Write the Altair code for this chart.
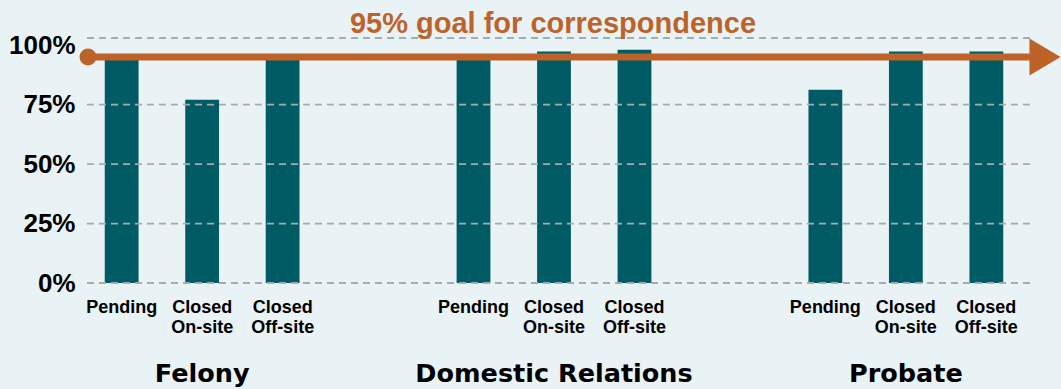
import altair as alt
import pandas as pd

# ---- data ----
groups = ["Felony", "Domestic Relations", "Probate"]
types = ["Pending", "Closed On-site", "Closed Off-site"]
type_labels = ["Pending", "Closed\nOn-site", "Closed\nOff-site"]
felony = [0.94, 0.77, 0.94]
domestic = [0.94, 0.973, 0.981]
probate = [0.812, 0.973, 0.973]
goal_value = [0.95]
goal_title = ["95% goal for correspondence"]
grid_levels = [0, 0.25, 0.5, 0.75, 1.03]
tick_values = [0, 0.25, 0.5, 0.75, 1.0]

# ---- styling ----
BG = "#e9f2f5"
TEAL = "#005b64"
ORANGE = "#bd632a"
GRID = "#a3adad"

rows = []
for g, vals in zip(groups, [felony, domestic, probate]):
    for t, lab, v in zip(types, type_labels, vals):
        rows.append({"group": g, "type": t, "label": lab, "value": v})
df = pd.DataFrame(rows)
grid_df = pd.DataFrame({"level": grid_levels})
goal_df = pd.DataFrame({"goal": goal_value})
title_df = pd.DataFrame({"t": goal_title})

yscale = alt.Scale(domain=[0, 1.03], nice=False, zero=True)
xscale = alt.Scale(paddingInner=0.3, paddingOuter=0)
xoscale = alt.Scale(paddingInner=0.58, paddingOuter=0.32)

y_axis = alt.Axis(title=None, values=tick_values, format=".0%",
                  grid=False, domain=False, ticks=False,
                  labelFont="Liberation Sans", labelFontWeight="bold",
                  labelFontSize=26, labelColor="#000000", labelPadding=4)
x_axis = alt.Axis(title=None, labelAngle=0, domain=False, ticks=False,
                  labelFont="DejaVu Sans", labelFontWeight="bold",
                  labelFontSize=25.5, labelColor="#000000", labelPadding=78,
                  labelLimit=0)

bars = alt.Chart(df).mark_bar(color=TEAL).encode(
    x=alt.X("group:N", sort=groups, scale=xscale, axis=x_axis),
    xOffset=alt.XOffset("type:N", sort=types, scale=xoscale),
    y=alt.Y("value:Q", scale=yscale, axis=y_axis),
)

grid = alt.Chart(grid_df).mark_rule(
    color=GRID, strokeWidth=1.8, strokeDash=[7, 5]
).encode(
    y=alt.Y("level:Q", scale=yscale, axis=y_axis),
    x=alt.value(8),
    x2=alt.value(954),
)

type_text = alt.Chart(df).mark_text(
    font="Liberation Sans", fontWeight="bold", fontSize=18, color="#000000",
    baseline="top", align="center", lineBreak="\n", lineHeight=20, dy=16,
).encode(
    x=alt.X("group:N", sort=groups, scale=xscale, axis=x_axis),
    xOffset=alt.XOffset("type:N", sort=types, scale=xoscale),
    y=alt.datum(0, scale=yscale),
    text="label:N",
)

goal_line = alt.Chart(goal_df).mark_rule(color=ORANGE, strokeWidth=7).encode(
    y=alt.Y("goal:Q", scale=yscale, axis=y_axis),
    x=alt.value(9),
    x2=alt.value(955),
)

goal_dot = alt.Chart(goal_df).mark_point(
    shape="circle", filled=True, color=ORANGE, opacity=1, size=290
).encode(
    y=alt.Y("goal:Q", scale=yscale, axis=y_axis),
    x=alt.value(9),
)

goal_head = alt.Chart(goal_df).mark_point(
    shape="M -0.84 -1 L 0.84 0 L -0.84 1 Z", filled=True, color=ORANGE,
    opacity=1, size=1369, strokeWidth=0
).encode(
    y=alt.Y("goal:Q", scale=yscale, axis=y_axis),
    x=alt.value(966),
)

title = alt.Chart(title_df).mark_text(
    font="Liberation Sans", fontWeight="bold", fontSize=29, color=ORANGE,
    align="center", baseline="alphabetic",
).encode(
    x=alt.value(474),
    y=alt.value(-5),
    text="t:N",
)

chart = alt.layer(
    bars, grid, goal_line, goal_dot, goal_head, type_text, title
).properties(
    width=950,
    height=245,
    padding={"left": 79, "top": 38, "right": 32, "bottom": 106},
    autosize=alt.AutoSizeParams(type="none"),
    background=BG,
).configure_view(stroke=None)

chart.save("out.html", embed_options={"renderer": "svg", "actions": False})
